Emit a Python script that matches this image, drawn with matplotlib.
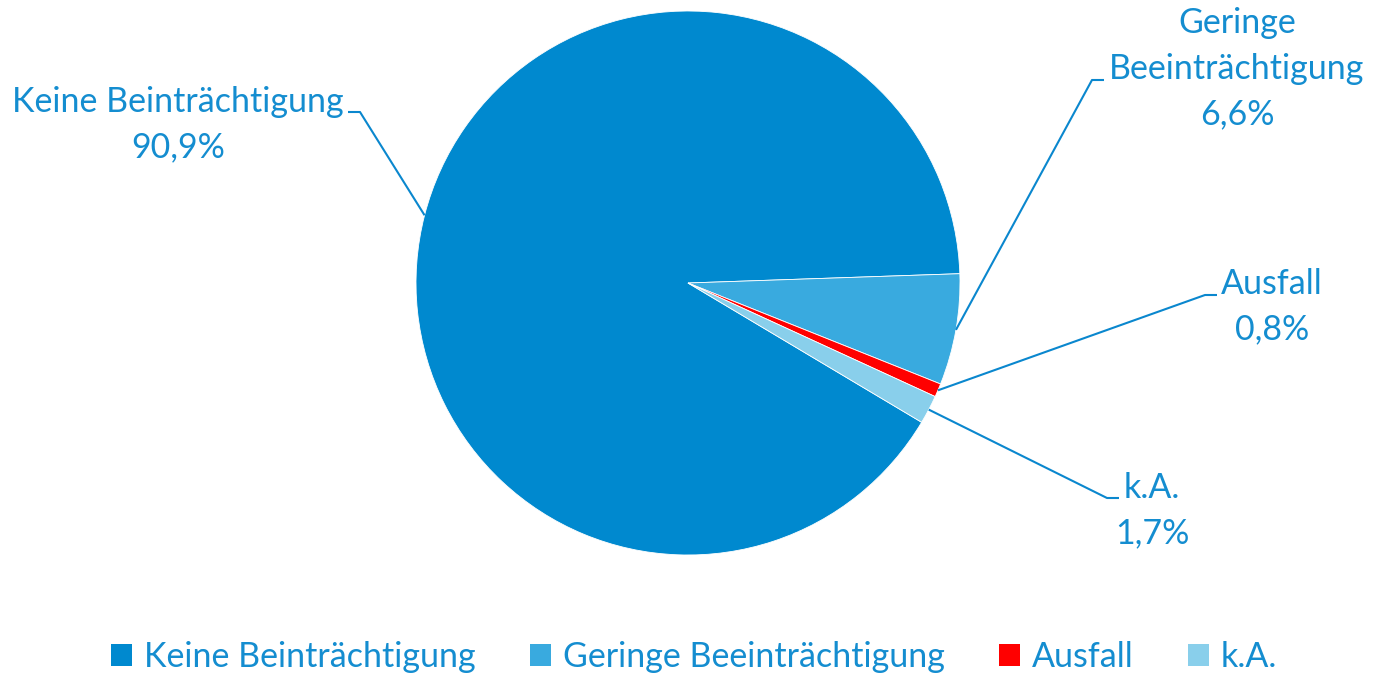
import matplotlib
matplotlib.use("Agg")
import matplotlib.pyplot as plt
import numpy as np
from matplotlib.patches import Patch

categories = ["Keine Beinträchtigung", "Geringe Beeinträchtigung", "Ausfall", "k.A."]
values = [90.9, 6.6, 0.8, 1.7]
value_labels = ["90,9%", "6,6%", "0,8%", "1,7%"]
label_names = ["Keine Beinträchtigung", "Geringe\nBeeinträchtigung", "Ausfall", "k.A."]
colors = ["#0089CF", "#39AADF", "#FF0000", "#89CFEB"]

TEXT_COLOR = "#148DD0"
LINE_COLOR = "#0A87CE"
FONT = "Lato"
FS = 24.5

W, H = 1373, 675
fig = plt.figure(figsize=(W / 100, H / 100), dpi=100)
ax = fig.add_axes([0, 0, 1, 1])

cx, cy, r = 688, H - 283, 272
wedges, _ = ax.pie(values, colors=colors, startangle=-30.8, counterclock=False,
                   center=(cx, cy), radius=r,
                   wedgeprops=dict(edgecolor="white", linewidth=0.6))
ax.set_xlim(0, W)
ax.set_ylim(0, H)
ax.set_aspect("equal")
ax.axis("off")

# layout for labels (pixel coordinates from top-left)
elbows = [(360, 112), (1092, 80), (1205, 295), (1107, 498)]
ends = [(348, 112), (1104, 80), (1217, 295), (1119, 498)]
text_pos = [(178, 125), (1237, 69), (1272, 307), (1152, 511)]

for w, el, en, tp, name, vl in zip(wedges, elbows, ends, text_pos, label_names, value_labels):
    mid = np.deg2rad((w.theta1 + w.theta2) / 2)
    px = cx + r * np.cos(mid)
    py = cy + r * np.sin(mid)
    xs = [px, el[0], en[0]]
    ys = [py, H - el[1], H - en[1]]
    ax.plot(xs, ys, color=LINE_COLOR, lw=1.5, solid_capstyle="butt")
    ax.text(tp[0], H - tp[1], name + "\n" + vl, ha="center", va="center",
            multialignment="center", color=TEXT_COLOR, fontsize=FS,
            family=FONT, linespacing=1.52)

handles = [Patch(facecolor=c, edgecolor="none", label=l) for c, l in zip(colors, categories)]
leg = fig.legend(handles=handles, loc="center", bbox_to_anchor=(694 / W, 1 - 657 / H),
                 ncol=4, frameon=False, handlelength=0.62, handleheight=0.62,
                 handletextpad=0.35, columnspacing=1.6,
                 prop=dict(family=FONT, size=FS))
for t in leg.get_texts():
    t.set_color(TEXT_COLOR)

fig.savefig("out.png", dpi=100)
